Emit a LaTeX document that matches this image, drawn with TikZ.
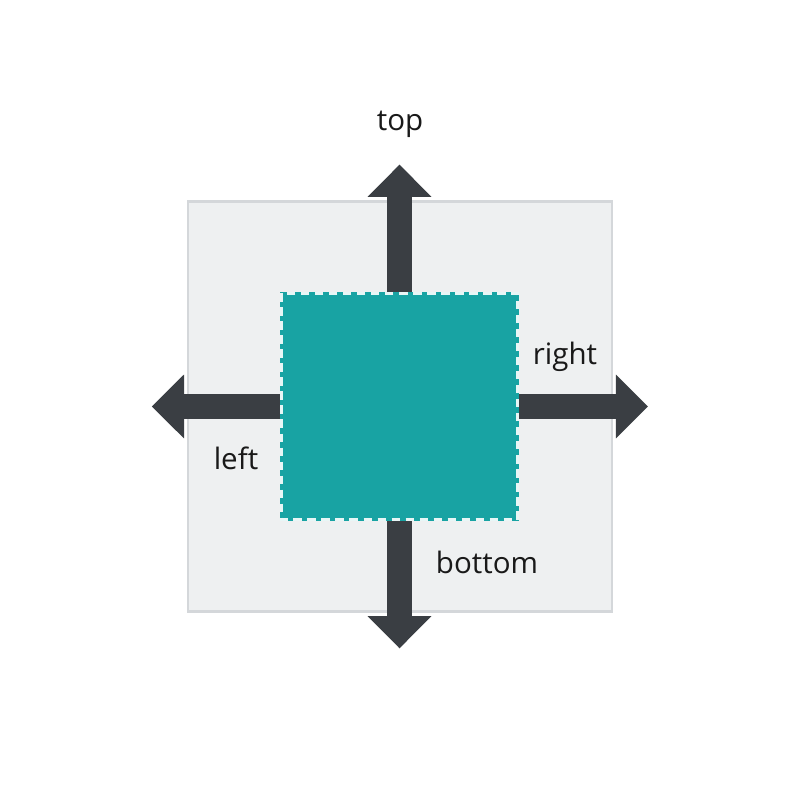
\documentclass[tikz,border=0pt]{standalone}
\usepackage{fontspec}
\setmainfont{Open Sans}
\usetikzlibrary{positioning,arrows.meta}
\definecolor{panelgray}{RGB}{238,240,241}
\definecolor{panelline}{RGB}{212,215,218}
\definecolor{tealbox}{RGB}{24,163,163}
\definecolor{arrowdark}{RGB}{58,62,67}

\begin{document}
\begin{tikzpicture}[
    x=0.025cm, y=0.025cm,
    panel/.style={
        draw=panelline,
        line width=2pt,
        fill=panelgray,
        minimum width=10.6cm,
        minimum height=10.25cm,
        inner sep=0pt,
        outer sep=0pt
    },
    content/.style={
        fill=tealbox,
        minimum width=5.975cm,
        minimum height=5.725cm,
        inner sep=0pt,
        outer sep=0pt
    },
    push/.style={
        draw=arrowdark,
        line width=17.8pt,
        -{Triangle[length=22.8pt, width=45.5pt, line width=0pt]}
    },
    lbl/.style={
        font=\fontsize{21}{25}\selectfont,
        text=black!90,
        anchor=base
    }
]
    % Fundo e limites da figura
    \fill[white] (0,0) rectangle (800,800);

    % Painel externo e caixa central
    \node[panel] (panel) at (400,393.5) {};
    \node[content] (box) at (399.5,393.5) {};

    % Pontas das setas
    \coordinate[above=3.18cm of box.north] (topend);
    \coordinate[below=3.18cm of box.south] (bottomend);
    \coordinate[left=3.2cm of box.west]    (leftend);
    \coordinate[right=3.22cm of box.east]  (rightend);

    % Setas para fora da caixa
    \draw[push] (box.north) -- (topend);
    \draw[push] (box.south) -- (bottomend);
    \draw[push] (box.west)  -- (leftend);
    \draw[push] (box.east)  -- (rightend);

    % Borda tracejada da caixa
    \draw[white!90!tealbox, line width=2.2pt, dash pattern=on 0.22cm off 0.13cm]
        ([shift={(1.5,-1.5)}]box.north west) rectangle ([shift={(-1.5,1.5)}]box.south east);

    % Rotulos
    \node[lbl] (toplbl)    at (400,669) {top};
    \node[lbl] (rightlbl)  at (565,435) {right};
    \node[lbl] (leftlbl)   at (236,330) {left};
    \node[lbl] (bottomlbl) at (487,226) {bottom};
\end{tikzpicture}
\end{document}
